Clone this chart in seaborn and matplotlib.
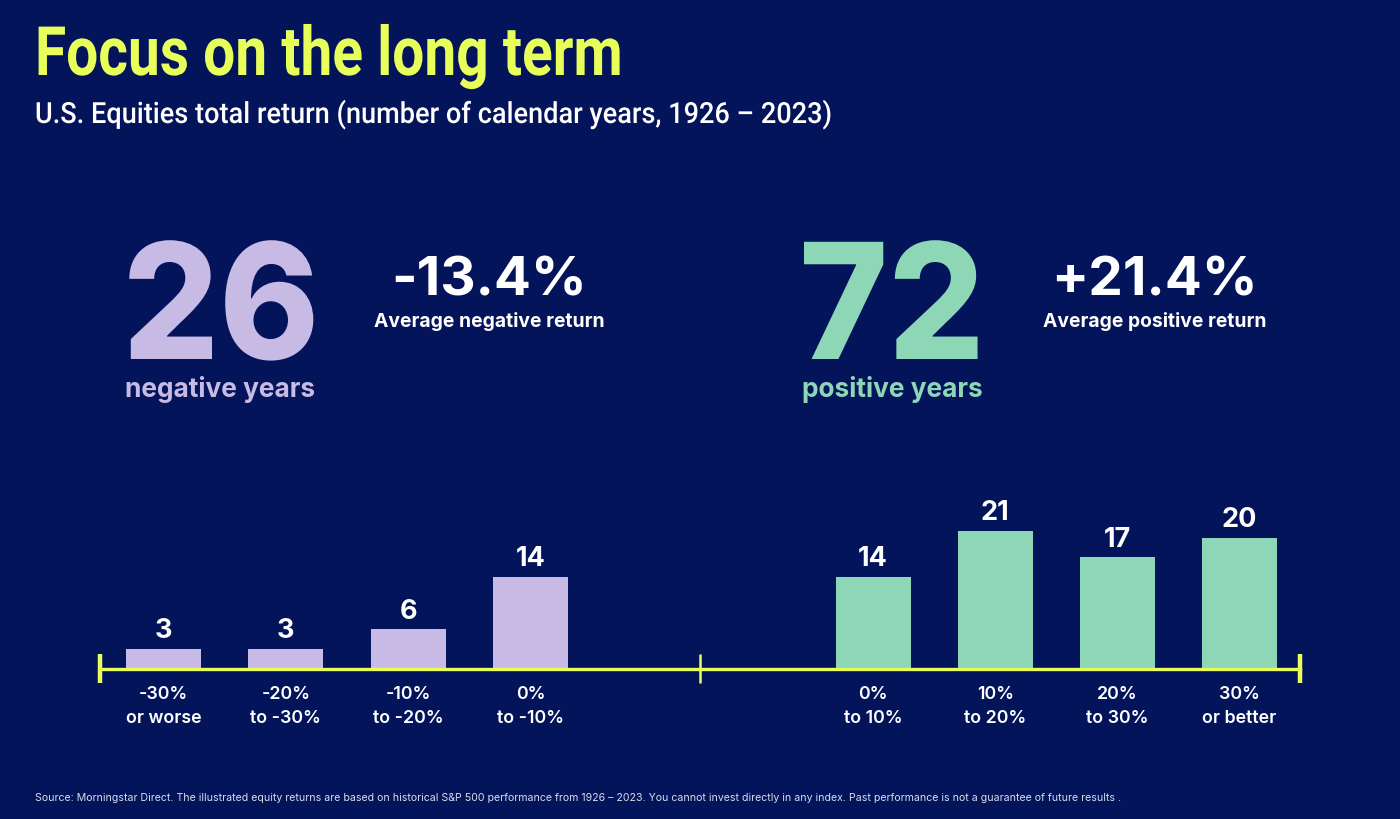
import matplotlib
matplotlib.use("Agg")
import matplotlib.pyplot as plt
from matplotlib.patheffects import AbstractPathEffect
from matplotlib.transforms import Affine2D
import seaborn as sns
import pandas as pd

neg_labels = ["-30%\nor worse", "-20%\nto -30%", "-10%\nto -20%", "0%\nto -10%"]
neg_values = [3, 3, 6, 14]
pos_labels = ["0%\nto 10%", "10%\nto 20%", "20%\nto 30%", "30%\nor better"]
pos_values = [14, 21, 17, 20]

BG = "#03145A"; YEL = "#E8FF5A"; LAV = "#C7BBE5"; GRN = "#8DD7B6"; WH = "#FFFFFF"
W, H = 1400, 820
NARROW = "Roboto"
SANS = "Inter"

sns.set_theme(style="white")
plt.rcParams["font.family"] = [SANS, "DejaVu Sans"]
fig = plt.figure(figsize=(14, 8.2), dpi=100, facecolor=BG)


class Squeeze(AbstractPathEffect):
    """Narrow the glyphs of a real text horizontally, about a fixed x."""
    def __init__(self, x0, sx):
        super().__init__()
        self.x0, self.sx = x0, sx

    def draw_path(self, renderer, gc, tpath, affine, rgbFace=None):
        t = affine.frozen() + Affine2D().translate(-self.x0, 0).scale(self.sx, 1).translate(self.x0, 0)
        renderer.draw_path(gc, tpath, t, rgbFace)


def px(x, y, s, **kw):
    return fig.text(x / W, 1 - y / H, s, **kw)


px(35, 76, "Focus on the long term", color=YEL, fontsize=49, family=NARROW, weight="semibold",
   va="baseline", path_effects=[Squeeze(35, 0.835)])
px(35, 124, "U.S. Equities total return (number of calendar years, 1926 – 2023)", color=WH, fontsize=21,
   family=NARROW, weight="medium", va="baseline", path_effects=[Squeeze(35, 0.93)])

px(221, 360, "26", color=LAV, fontsize=116, weight=800, ha="center", va="baseline", path_effects=[Squeeze(221, 0.94)])
px(220.5, 397, "negative years", color=LAV, fontsize=18.9, weight="bold", ha="center", va="baseline")
px(489, 295, "-13.4%", color=WH, fontsize=39.5, weight="bold", ha="center", va="baseline")
px(489.5, 327, "Average negative return", color=WH, fontsize=13.9, weight="bold", ha="center", va="baseline")

px(892, 360, "72", color=GRN, fontsize=116, weight=800, ha="center", va="baseline", path_effects=[Squeeze(892, 0.94)])
px(892.5, 397, "positive years", color=GRN, fontsize=18.9, weight="bold", ha="center", va="baseline")
px(1154, 295, "+21.4%", color=WH, fontsize=39.5, weight="bold", ha="center", va="baseline")
px(1155, 327, "Average positive return", color=WH, fontsize=13.9, weight="bold", ha="center", va="baseline")

px(35, 801, "Source: Morningstar Direct. The illustrated equity returns are based on historical S&P 500 performance from 1926 – 2023. You cannot invest directly in any index. Past performance is not a guarantee of future results .",
   color="#DADDEA", fontsize=7.6, va="baseline")

BASE = 669.5; TOP = 480; UNIT = 6.55


def panel(x0, x1, first, step, labels, values, color):
    ax = fig.add_axes([x0 / W, (H - BASE) / H, (x1 - x0) / W, (BASE - TOP) / H], facecolor="none")
    df = pd.DataFrame({"band": labels, "years": values})
    sns.barplot(data=df, x="band", y="years", color=color, width=75 / step, saturation=1,
                linewidth=0, edgecolor="none", ax=ax)
    ax.set_xlim((x0 - first) / step, (x1 - first) / step)
    ax.set_ylim(0, (BASE - TOP) / UNIT)
    ax.set_xlabel(""); ax.set_ylabel(""); ax.set_yticks([])
    sns.despine(ax=ax, left=True)
    ax.spines["bottom"].set_color(YEL); ax.spines["bottom"].set_linewidth(2.4)
    ax.tick_params(axis="x", length=0, pad=12, labelsize=12.8, labelcolor=WH)
    for t in ax.get_xticklabels():
        t.set_fontweight("semibold"); t.set_linespacing(1.5)
    for c in ax.containers:
        ax.bar_label(c, padding=4, color=WH, fontsize=19.5, fontweight="bold")
    return ax


axL = panel(100, 700, 163.5, 122.3, neg_labels, neg_values, LAV)
axR = panel(700, 1300, 873.2, 122.0, pos_labels, pos_values, GRN)


def cap(ax, xfrac, lw):
    dy = 14.5 / (BASE - TOP)
    ax.plot([xfrac, xfrac], [-dy, dy], transform=ax.transAxes, color=YEL, lw=lw,
            clip_on=False, solid_capstyle="butt")


cap(axL, 0, 3.2); cap(axL, 1, 1.8); cap(axR, 1, 3.2)

fig.savefig("out.png", dpi=100, facecolor=BG)
